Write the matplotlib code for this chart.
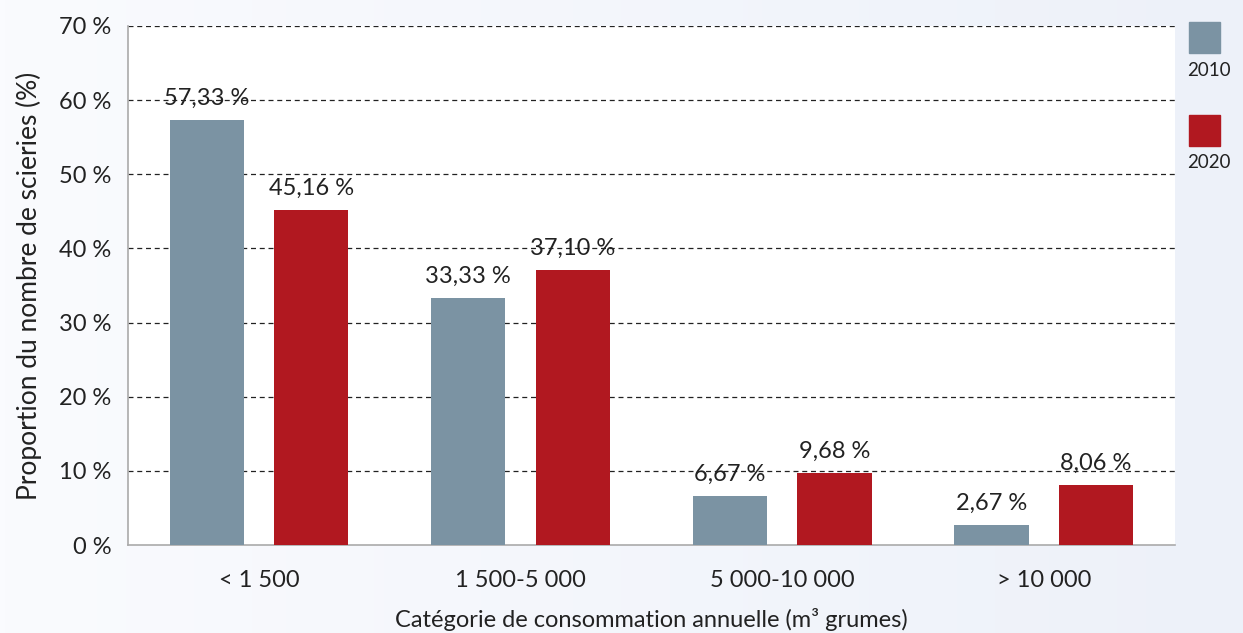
import matplotlib.pyplot as plt
import numpy as np
from matplotlib.patches import Rectangle
from matplotlib.colors import LinearSegmentedColormap

categories = ["< 1 500", "1 500-5 000", "5 000-10 000", "> 10 000"]
years = ["2010", "2020"]
values_2010 = [57.33, 33.33, 6.67, 2.67]
values_2020 = [45.16, 37.10, 9.68, 8.06]
colors = ["#7b93a3", "#b11820"]

plt.rcParams['font.family'] = ['Lato', 'DejaVu Sans']

fig = plt.figure(figsize=(12.43, 6.33), dpi=100)

# fond dégradé clair
bg = fig.add_axes([0, 0, 1, 1], zorder=-10)
grad = np.linspace(0, 1, 256).reshape(1, -1)
cmap = LinearSegmentedColormap.from_list("bg", ["#fafbfe", "#edf1f9"])
bg.imshow(grad, aspect='auto', cmap=cmap, extent=[0, 1, 0, 1])
bg.set_axis_off()

ax = fig.add_axes([0.103, 0.139, 0.842, 0.820])
ax.set_facecolor("white")

x = np.arange(len(categories))
w = 0.283
off = 0.2
for vals, c, sign in [(values_2010, colors[0], -1), (values_2020, colors[1], 1)]:
    bars = ax.bar(x + sign * off, vals, width=w, color=c, zorder=3)
    for b, v in zip(bars, vals):
        ax.annotate(f"{v:.2f} %".replace(".", ","), (b.get_x() + b.get_width() / 2, v),
                    xytext=(0, 8), textcoords="offset points", ha="center", va="bottom",
                    fontsize=17, color="#222222", zorder=4)

ax.set_xlim(-0.5, 3.5)
ax.set_ylim(0, 70)
ax.set_yticks(range(0, 71, 10))
ax.set_yticklabels([f"{t} %" for t in range(0, 71, 10)], fontsize=17, color="#222222")
ax.set_xticks(x)
ax.set_xticklabels(categories, fontsize=17, color="#222222")
ax.tick_params(length=0, pad=12, axis="y")
ax.tick_params(length=0, pad=18, axis="x")
for t in range(10, 71, 10):
    ax.axhline(t, color="#222222", ls=(0, (4, 3)), lw=0.9, zorder=1)
for s in ["top", "right"]:
    ax.spines[s].set_visible(False)
for s in ["left", "bottom"]:
    ax.spines[s].set_color("#aaaaaa")
    ax.spines[s].set_linewidth(1.2)

ax.set_ylabel("Proportion du nombre de scieries (%)", fontsize=19, color="#222222", labelpad=12)
ax.set_xlabel("Catégorie de consommation annuelle (m³ grumes)", fontsize=17, color="#222222", labelpad=12)

# légende à droite
W, H = 1243, 633
for i, (yr, c) in enumerate(zip(years, colors)):
    top = 22 + i * 93
    fig.patches.append(Rectangle((1189 / W, 1 - (top + 31) / H), 31 / W, 31 / H,
                                 transform=fig.transFigure, color=c))
    fig.text(1209 / W, 1 - (top + 48) / H, yr, ha="center", va="center",
             fontsize=13.5, color="#222222")

fig.savefig("out.png", dpi=100)
